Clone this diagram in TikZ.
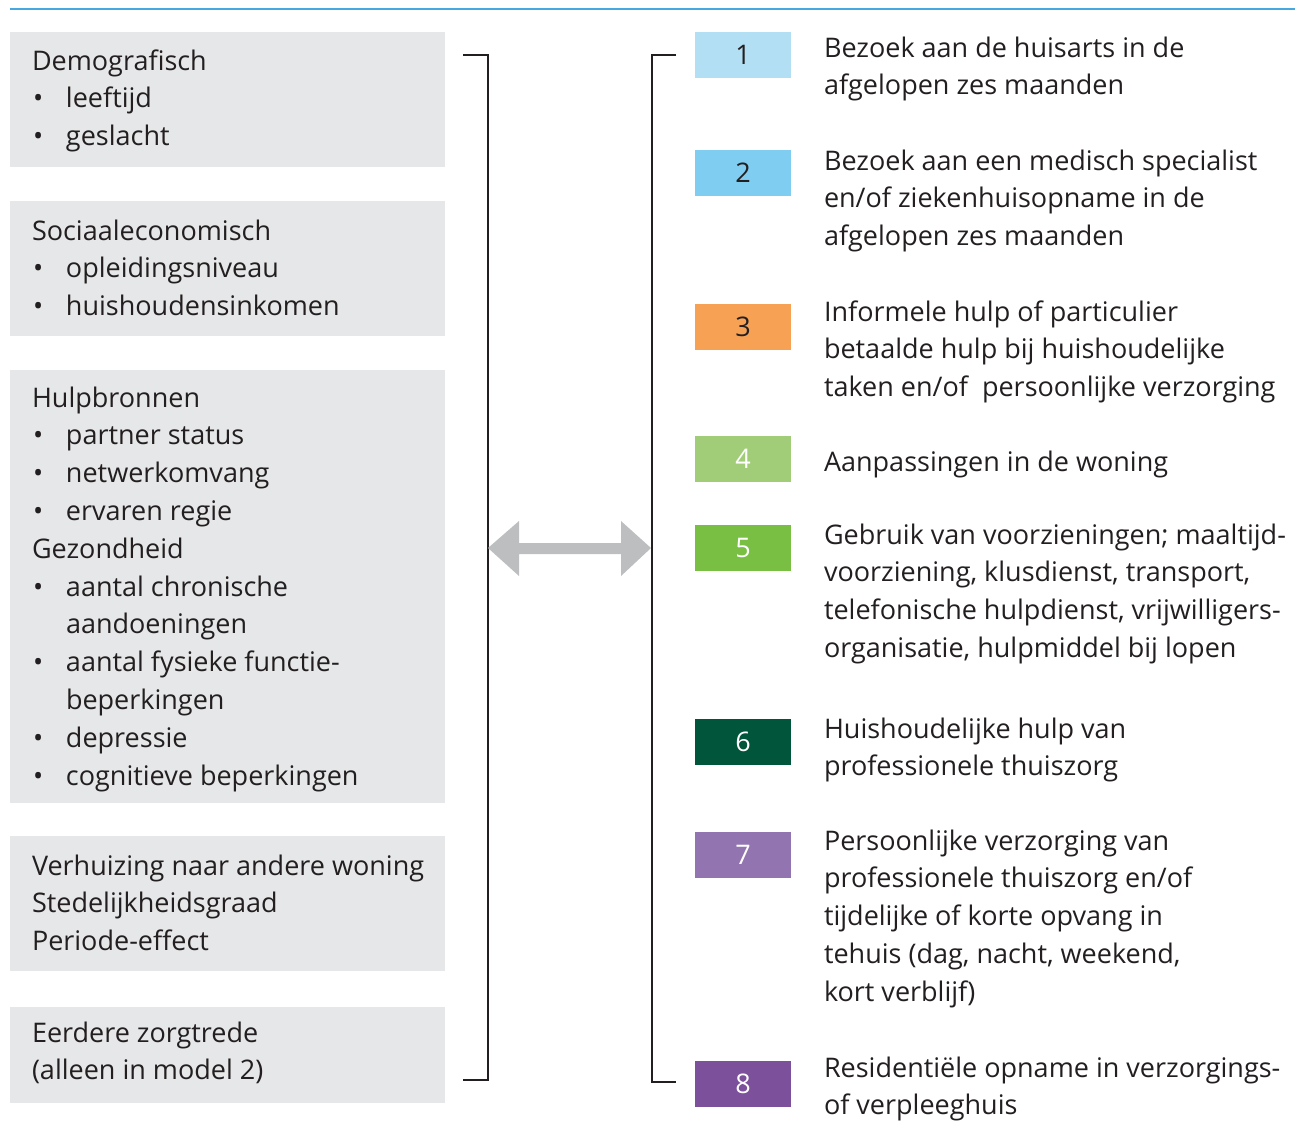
\documentclass[tikz,border=0pt]{standalone}
\usepackage{fontspec}
\setmainfont{Open Sans}
\definecolor{txt}{RGB}{35,31,32}
\definecolor{boxgray}{RGB}{230,231,232}
\definecolor{topline}{RGB}{70,168,224}
\definecolor{arrgray}{RGB}{188,190,192}
\definecolor{c1}{RGB}{179,223,245}
\definecolor{c2}{RGB}{127,205,241}
\definecolor{c3}{RGB}{247,161,84}
\definecolor{c4}{RGB}{161,205,120}
\definecolor{c5}{RGB}{121,191,67}
\definecolor{c6}{RGB}{0,85,58}
\definecolor{c7}{RGB}{145,116,176}
\definecolor{c8}{RGB}{124,80,155}
\newcommand{\bul}{\makebox[34pt][l]{\hspace{1pt}•}}
\newcommand{\ind}{\hspace{34pt}}
\newcommand{\fl}{\rule{0pt}{22pt}}
\begin{document}
\begin{tikzpicture}[x=1pt,y=-1pt,
  every node/.style={inner sep=0pt, outer sep=0pt},
  lbox/.style={fill=boxgray, minimum width=435pt, anchor=north west},
  ltext/.style={anchor=north west, align=left, text=txt, font=\fontsize{27}{37.8}\selectfont},
  rtext/.style={anchor=north west, align=left, text=txt, font=\fontsize{27}{37.8}\selectfont},
  numbox/.style={minimum width=96pt, minimum height=45.5pt, anchor=north west, font=\fontsize{27}{32}\selectfont},
  bracket/.style={draw=txt, line width=2pt}
]
\useasboundingbox (0,0) rectangle (1296,1144);
\draw[topline, line width=1.5pt] (10,9) -- (1295,9);

% left boxes
\node[lbox, minimum height=135pt] (L1) at (10,32) {};
\node[lbox, minimum height=135pt] (L2) at (10,201) {};
\node[lbox, minimum height=433pt] (L3) at (10,370) {};
\node[lbox, minimum height=135pt] (L4) at (10,836) {};
\node[lbox, minimum height=96pt] (L5) at (10,1007) {};

% left texts (y = first baseline - 22)
\node[ltext] (T1) at (32,48) {\fl Demografisch\\\bul leeftijd\\\bul geslacht};
\node[ltext] (T2) at (32,218) {\fl Sociaaleconomisch\\\bul opleidingsniveau\\\bul huishoudensinkomen};
\node[ltext] (T3) at (32,385) {\fl Hulpbronnen\\\bul partner status\\\bul netwerkomvang\\\bul ervaren regie\\Gezondheid\\\bul aantal chronische\\\ind aandoeningen\\\bul aantal fysieke functie-\\\ind beperkingen\\\bul depressie\\\bul cognitieve beperkingen};
\node[ltext] (T4) at (32,853) {\fl Verhuizing naar andere woning\\Stedelijkheidsgraad\\Periode-effect};
\node[ltext] (T5) at (32,1020) {\fl Eerdere zorgtrede\\(alleen in model 2)};

% brackets
\coordinate (lbt) at (463,55);
\coordinate (lbb) at (463,1080);
\coordinate (rbt) at (676,55);
\coordinate (rbb) at (676,1082);
\draw[bracket] (lbt) -| (488,1080) -- (lbb);
\draw[bracket] (rbt) -| (652,1082) -- (rbb);

% double arrow
\fill[arrgray] (488,548) -- (519,521) -- (519,543) -- (621,543) -- (621,521) -- (651,548)
  -- (621,576) -- (621,554) -- (519,554) -- (519,576) -- cycle;

% number boxes
\node[numbox, fill=c1, text=txt] (N1) at (695,32) {1};
\node[numbox, fill=c2, text=txt] (N2) at (695,150) {2};
\node[numbox, fill=c3, text=txt] (N3) at (695,304) {3};
\node[numbox, fill=c4, text=white] (N4) at (695,436) {4};
\node[numbox, fill=c5, text=white] (N5) at (695,525) {5};
\node[numbox, fill=c6, text=white] (N6) at (695,719) {6};
\node[numbox, fill=c7, text=white] (N7) at (695,832) {7};
\node[numbox, fill=c8, text=white] (N8) at (695,1061) {8};

% right texts
\node[rtext] (R1) at (824,35) {\fl Bezoek aan de huisarts in de\\afgelopen zes maanden};
\node[rtext] (R2) at (824,148) {\fl Bezoek aan een medisch specialist\\en/of ziekenhuisopname in de\\afgelopen zes maanden};
\node[rtext] (R3) at (824,299) {\fl Informele hulp of particulier\\betaalde hulp bij huishoudelijke\\taken en/of \ persoonlijke verzorging};
\node[rtext] (R4) at (824,449) {\fl Aanpassingen in de woning};
\node[rtext] (R5) at (824,522) {\fl Gebruik van voorzieningen; maaltijd-\\voorziening, klusdienst, transport,\\telefonische hulpdienst, vrijwilligers-\\organisatie, hulpmiddel bij lopen};
\node[rtext] (R6) at (824,716) {\fl Huishoudelijke hulp van\\professionele thuiszorg};
\node[rtext] (R7) at (824,828) {\fl Persoonlijke verzorging van\\professionele thuiszorg en/of\\tijdelijke of korte opvang in\\tehuis (dag, nacht, weekend,\\kort verblijf)};
\node[rtext] (R8) at (824,1055) {\fl Residentiële opname in verzorgings-\\of verpleeghuis};
\end{tikzpicture}
\end{document}
